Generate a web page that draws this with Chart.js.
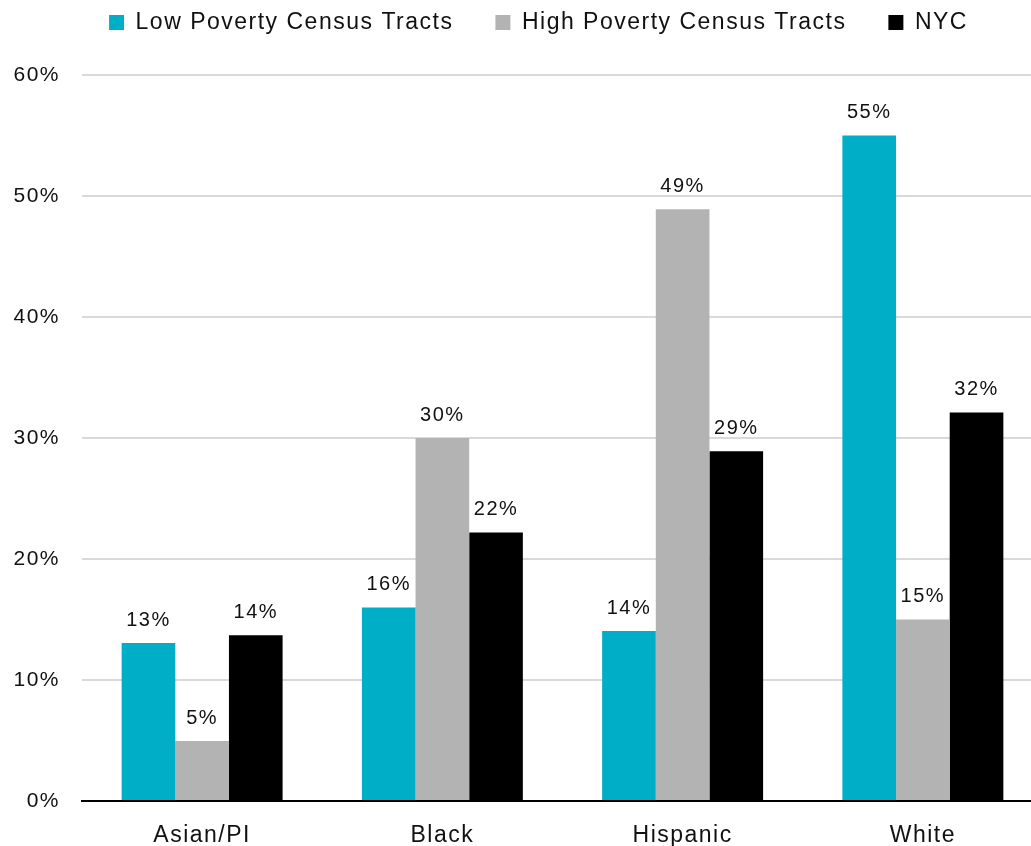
<!DOCTYPE html>
<html>
<head>
<meta charset="utf-8">
<script src="https://cdn.jsdelivr.net/npm/chart.js@4.4.1/dist/chart.umd.min.js"></script>
<style>
  html, body { margin: 0; padding: 0; background: #fff; }
  #wrap { width: 1031px; height: 846px; position: relative; }
</style>
</head>
<body>
<div id="wrap"><canvas id="chart"></canvas></div>
<script>
const categories = ['Asian/PI', 'Black', 'Hispanic', 'White'];
const lowPoverty = [13.05, 16.0, 14.05, 55.0];
const highPoverty = [4.95, 30.0, 48.9, 15.0];
const nyc = [13.7, 22.2, 28.9, 32.1];
const yTicks = [0, 10, 20, 30, 40, 50, 60];

const FONT = '"Liberation Sans", Arial, sans-serif';

// wider letter spacing, closer to the original typeface
const spacing = {
  id: 'spacing',
  beforeUpdate(chart) { chart.ctx.letterSpacing = '1.5px'; },
  beforeDraw(chart) { chart.ctx.letterSpacing = '1.5px'; }
};

// legend sits near the top, but keeps the plot top at the same place
const legendHeight = {
  id: 'legendHeight',
  beforeInit(chart) {
    const fit = chart.legend.fit;
    chart.legend.fit = function () {
      fit.call(this);
      this.height = 106;
    };
  }
};

// the category axis runs a little past the right edge of the canvas,
// and the legend row sits a bit right of centre
const adjustLayout = {
  id: 'adjustLayout',
  afterLayout(chart) {
    const x = chart.scales.x;
    x.right += 12;
    x.width += 12;
    x.configure();
    chart.legend.left += 23;
    chart.legend.right += 23;
  }
};

// labels above each bar
const barLabels = {
  id: 'barLabels',
  afterDatasetsDraw(chart) {
    const ctx = chart.ctx;
    ctx.save();
    ctx.font = '20px ' + FONT;
    ctx.fillStyle = '#111';
    ctx.textAlign = 'center';
    ctx.textBaseline = 'middle';
    chart.data.datasets.forEach((ds, i) => {
      chart.getDatasetMeta(i).data.forEach((bar, j) => {
        ctx.fillText(Math.round(ds.data[j]) + '%', bar.x, bar.y - 23);
      });
    });
    ctx.restore();
  }
};

const ctx = document.getElementById('chart').getContext('2d');
new Chart(ctx, {
  type: 'bar',
  data: {
    labels: categories,
    datasets: [
      { label: 'Low Poverty Census Tracts', data: lowPoverty, backgroundColor: '#00AEC7' },
      { label: 'High Poverty Census Tracts', data: highPoverty, backgroundColor: '#B3B3B3' },
      { label: 'NYC', data: nyc, backgroundColor: '#000000' }
    ]
  },
  options: {
    responsive: true,
    maintainAspectRatio: false,
    animation: false,
    layout: { padding: { top: -31, right: 0, bottom: 0, left: 0 } },
    datasets: {
      bar: { barPercentage: 1.0, categoryPercentage: 0.67 }
    },
    plugins: {
      legend: {
        position: 'top',
        labels: {
          boxWidth: 15,
          boxHeight: 15,
          padding: 42,
          color: '#111',
          font: { family: FONT, size: 23 }
        }
      },
      tooltip: { enabled: false }
    },
    scales: {
      x: {
        grid: { display: false },
        border: { color: '#000', width: 2 },
        ticks: { color: '#111', padding: 13, font: { family: FONT, size: 23 } },
        afterFit(scale) { scale.height = 45; }
      },
      y: {
        min: 0,
        max: 60,
        border: { display: false },
        grid: {
          color: c => c.tick && c.tick.value === 0 ? '#000' : '#D9D9D9',
          lineWidth: 2,
          drawTicks: false
        },
        afterBuildTicks(scale) { scale.ticks = yTicks.map(v => ({ value: v })); },
        ticks: {
          color: '#111',
          padding: 22,
          font: { family: FONT, size: 21 },
          callback: v => v + '%'
        },
        afterFit(scale) { scale.width = 82; }
      }
    }
  },
  plugins: [spacing, legendHeight, adjustLayout, barLabels]
});
</script>
</body>
</html>
